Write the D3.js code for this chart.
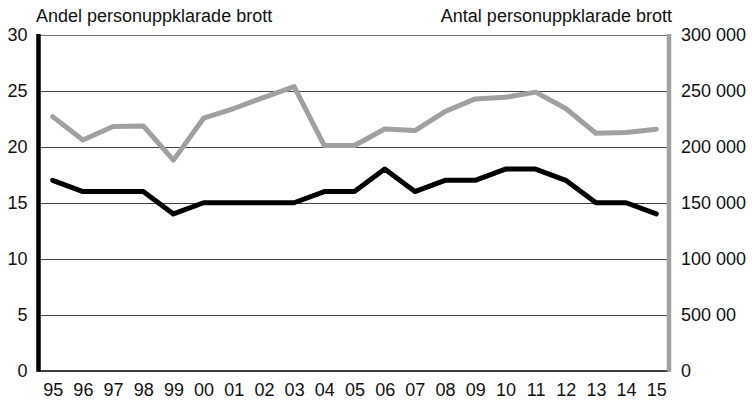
<!DOCTYPE html>
<html>
<head>
<meta charset="utf-8">
<script src="https://cdn.jsdelivr.net/npm/d3@7/dist/d3.min.js"></script>
<style>
  html, body { margin: 0; padding: 0; background: #fff; }
  svg { display: block; }
  text { font-family: "Liberation Sans", Arial, Helvetica, sans-serif; fill: #111; }
</style>
</head>
<body>
<svg id="chart" width="752" height="405"></svg>
<script>
// ---- data ----
const years = ["95","96","97","98","99","00","01","02","03","04","05","06","07","08","09","10","11","12","13","14","15"];
const andel = [17,16,16,16,14,15,15,15,15,16,16,18,16,17,17,18,18,17,15,15,14];
const antal = [226800,206000,218000,218500,188000,225400,234000,244000,253600,201000,201000,215800,214400,231300,242600,244000,248600,234000,212000,212600,215600];
const leftTicks = [0,5,10,15,20,25,30];
const rightTicks = [0,50000,100000,150000,200000,250000,300000];
const rightTickLabels = ["0","500 00","100 000","150 000","200 000","250 000","300 000"];
const leftTitle = "Andel personuppklarade brott";
const rightTitle = "Antal personuppklarade brott";

// ---- layout ----
const svg = d3.select("#chart");
const plotLeft = 38.5, plotRight = 669, plotTop = 34.5, plotBottom = 371;
const fontSize = 18;

const x = d3.scalePoint().domain(years).range([52.7, 656.3]);
const yL = d3.scaleLinear().domain([0,30]).range([plotBottom, plotTop]);
const yR = d3.scaleLinear().domain([0,300000]).range([plotBottom, plotTop]);

// gridlines
svg.append("g").selectAll("line").data(leftTicks.filter(d => d > 0)).join("line")
  .attr("x1", plotLeft).attr("x2", plotRight)
  .attr("y1", d => Math.round(yL(d)) + 0.5).attr("y2", d => Math.round(yL(d)) + 0.5)
  .attr("stroke", d => d === 30 ? "#777" : "#444").attr("stroke-width", 1.2);

// lines
const lineL = d3.line().x((d,i) => x(years[i])).y(d => yL(d));
const lineR = d3.line().x((d,i) => x(years[i])).y(d => yR(d));

svg.append("path").datum(antal).attr("d", lineR)
  .attr("fill","none").attr("stroke","#a0a0a0").attr("stroke-width",5)
  .attr("stroke-linejoin","round").attr("stroke-linecap","round");
svg.append("path").datum(andel).attr("d", lineL)
  .attr("fill","none").attr("stroke","#000").attr("stroke-width",5)
  .attr("stroke-linejoin","round").attr("stroke-linecap","round");

// bottom axis line
svg.append("line").attr("x1", plotLeft).attr("x2", plotRight)
  .attr("y1", plotBottom).attr("y2", plotBottom)
  .attr("stroke","#000").attr("stroke-width",1.6);

// left axis (thick black)
const leftAxis = d3.axisLeft(yL).tickValues(leftTicks).tickSize(0).tickPadding(11);
const gL = svg.append("g").attr("transform", `translate(${plotLeft},0)`).call(leftAxis);
gL.select(".domain").remove();
gL.append("line").attr("x1",0).attr("x2",0).attr("y1",plotTop-0.5).attr("y2",plotBottom+0.8)
  .attr("stroke","#000").attr("stroke-width",4.5);
gL.selectAll("text").attr("font-size", fontSize).attr("fill","#111")
  .attr("font-family",'"Liberation Sans", Arial, sans-serif');

// right axis (thick gray)
const rightAxis = d3.axisRight(yR).tickValues(rightTicks)
  .tickFormat((d,i) => rightTickLabels[i]).tickSize(0).tickPadding(12);
const gR = svg.append("g").attr("transform", `translate(${plotRight},0)`).call(rightAxis);
gR.select(".domain").remove();
gR.append("line").attr("x1",0).attr("x2",0).attr("y1",plotTop-0.5).attr("y2",plotBottom+0.8)
  .attr("stroke","#a0a0a0").attr("stroke-width",4.5);
gR.selectAll("text").attr("font-size", fontSize).attr("fill","#111")
  .attr("font-family",'"Liberation Sans", Arial, sans-serif');

// x axis labels
const xAxis = d3.axisBottom(x).tickSize(0).tickPadding(12);
const gX = svg.append("g").attr("transform", `translate(0,${plotBottom})`).call(xAxis);
gX.select(".domain").remove();
gX.selectAll("text").attr("font-size", fontSize).attr("fill","#111")
  .attr("font-family",'"Liberation Sans", Arial, sans-serif');

// titles
svg.append("text").attr("x", 36).attr("y", 21.5).attr("font-size", fontSize).text(leftTitle);
svg.append("text").attr("x", 672).attr("y", 21.5).attr("text-anchor","end").attr("font-size", fontSize).text(rightTitle);
</script>
</body>
</html>
